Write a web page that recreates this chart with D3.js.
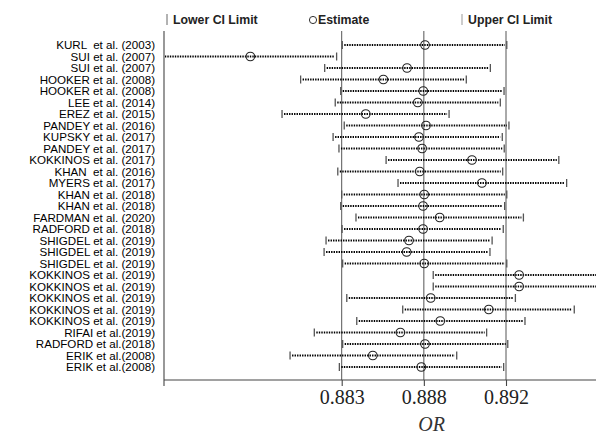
<!DOCTYPE html>
<html>
<head>
<meta charset="utf-8">
<script src="https://cdn.jsdelivr.net/npm/d3@7/dist/d3.min.js"></script>
<style>
  html, body { margin: 0; padding: 0; background: #fff; }
  svg { display: block; }
</style>
</head>
<body>
<svg id="chart" width="596" height="436"></svg>
<script>
// ---- Data ----
const studies = [
  "KURL  et al. (2003)", "SUI et al. (2007)", "SUI et al. (2007)", "HOOKER et al. (2008)",
  "HOOKER et al. (2008)", "LEE et al. (2014)", "EREZ et al. (2015)", "PANDEY et al. (2016)",
  "KUPSKY et al. (2017)", "PANDEY et al. (2017)", "KOKKINOS et al. (2017)", "KHAN  et al. (2016)",
  "MYERS et al. (2017)", "KHAN et al. (2018)", "KHAN et al. (2018)", "FARDMAN et al. (2020)",
  "RADFORD et al. (2018)", "SHIGDEL et al. (2019)", "SHIGDEL et al. (2019)", "SHIGDEL et al. (2019)",
  "KOKKINOS et al. (2019)", "KOKKINOS et al. (2019)", "KOKKINOS et al. (2019)", "KOKKINOS et al. (2019)",
  "KOKKINOS et al. (2019)", "RIFAI et al.(2019)", "RADFORD et al.(2018)", "ERIK et al.(2008)",
  "ERIK et al.(2008)"
];
const estimate = [
  0.88766, 0.87873, 0.88674, 0.88553, 0.88757, 0.88729, 0.88463, 0.88771,
  0.88735, 0.88751, 0.89006, 0.88739, 0.89057, 0.88762, 0.88756, 0.88841,
  0.88756, 0.88684, 0.88672, 0.88762, 0.89247, 0.89247, 0.88795, 0.89092,
  0.88844, 0.88640, 0.88766, 0.88499, 0.88747
];
const lowerCI = [
  0.88343, 0.87400, 0.88253, 0.88130, 0.88335, 0.88307, 0.88035, 0.88353,
  0.88296, 0.88326, 0.88567, 0.88320, 0.88628, 0.88340, 0.88335, 0.88413,
  0.88342, 0.88260, 0.88250, 0.88345, 0.88808, 0.88808, 0.88366, 0.88652,
  0.88417, 0.88200, 0.88345, 0.88076, 0.88328
];
const upperCI = [
  0.89184, 0.88314, 0.89100, 0.88977, 0.89170, 0.89151, 0.88889, 0.89195,
  0.89161, 0.89171, 0.89450, 0.89163, 0.89490, 0.89184, 0.89173, 0.89269,
  0.89166, 0.89109, 0.89098, 0.89184, 0.89690, 0.89690, 0.89228, 0.89529,
  0.89277, 0.89081, 0.89189, 0.88928, 0.89168
];
const tickValues = [0.8834, 0.8876, 0.8918];
const tickLabels = ["0.883", "0.888", "0.892"];
const legendLabels = ["Lower CI Limit", "Estimate", "Upper CI Limit"];
const axisTitle = "OR";

// ---- Layout ----
const svg = d3.select("#chart");
const plotLeft = 164, plotRight = 596, plotTop = 31, plotBottom = 380;

const x = d3.scaleLinear().domain([tickValues[0], tickValues[2]]).range([341.7, 506]);
const y = d3.scalePoint().domain(d3.range(studies.length)).range([45, 367]);

const rows = studies.map((s, i) => ({ i, s, est: estimate[i], lo: lowerCI[i], hi: upperCI[i] }));

svg.append("defs").append("clipPath").attr("id", "plotclip")
  .append("rect").attr("x", plotLeft + 1).attr("y", 0).attr("width", plotRight - plotLeft).attr("height", 436);

// reference lines at ticks
svg.append("g").selectAll("line").data(tickValues).join("line")
  .attr("x1", d => x(d)).attr("x2", d => x(d))
  .attr("y1", plotTop).attr("y2", plotBottom)
  .attr("stroke", "#555").attr("stroke-width", 1);

// left axis line
svg.append("line")
  .attr("x1", plotLeft).attr("x2", plotLeft)
  .attr("y1", plotTop).attr("y2", plotBottom + 6)
  .attr("stroke", "#444").attr("stroke-width", 1.1);

// bottom axis
const xAxis = d3.axisBottom(x)
  .tickValues(tickValues)
  .tickFormat((d, i) => tickLabels[i])
  .tickSize(6).tickSizeOuter(0);
const gx = svg.append("g").attr("transform", `translate(0,${plotBottom})`).call(xAxis);
gx.select(".domain").remove();
gx.selectAll(".tick line").attr("stroke", "#444").attr("stroke-width", 1.1);
gx.selectAll(".tick text")
  .attr("font-family", "'Liberation Serif', 'DejaVu Serif', serif")
  .attr("font-size", 20).attr("fill", "#222").attr("y", 10).attr("dy", "0.71em");
svg.append("line")
  .attr("x1", plotLeft).attr("x2", plotRight)
  .attr("y1", plotBottom).attr("y2", plotBottom)
  .attr("stroke", "#444").attr("stroke-width", 1.1);

// axis title
svg.append("text")
  .attr("x", x(0.888)).attr("y", 431)
  .attr("text-anchor", "middle")
  .attr("font-family", "'Liberation Serif', 'DejaVu Serif', serif")
  .attr("font-style", "italic").attr("font-size", 20).attr("fill", "#333")
  .text(axisTitle);

// study labels
svg.append("g").selectAll("text").data(rows).join("text")
  .attr("x", 155).attr("y", d => y(d.i) + 4.2)
  .attr("text-anchor", "end")
  .attr("font-family", "'Liberation Sans', Arial, sans-serif")
  .attr("font-size", 11.6).attr("fill", "#000")
  .style("white-space", "pre")
  .text(d => d.s);

// CI marks
const gCI = svg.append("g").attr("clip-path", "url(#plotclip)");
gCI.selectAll("line.ci").data(rows).join("line").attr("class", "ci")
  .attr("x1", d => x(d.lo) + 2).attr("x2", d => x(d.hi) - 2)
  .attr("y1", d => y(d.i)).attr("y2", d => y(d.i))
  .attr("stroke", "#000").attr("stroke-width", 2.2)
  .attr("stroke-dasharray", "1.4,1.1");
gCI.selectAll("line.lo").data(rows).join("line").attr("class", "lo")
  .attr("x1", d => x(d.lo)).attr("x2", d => x(d.lo))
  .attr("y1", d => y(d.i) - 4).attr("y2", d => y(d.i) + 4)
  .attr("stroke", "#555").attr("stroke-width", 1.3);
gCI.selectAll("line.hi").data(rows).join("line").attr("class", "hi")
  .attr("x1", d => x(d.hi)).attr("x2", d => x(d.hi))
  .attr("y1", d => y(d.i) - 4).attr("y2", d => y(d.i) + 4)
  .attr("stroke", "#555").attr("stroke-width", 1.3);
gCI.selectAll("circle").data(rows).join("circle")
  .attr("cx", d => x(d.est)).attr("cy", d => y(d.i)).attr("r", 4.3)
  .attr("fill", "none").attr("stroke", "#222").attr("stroke-width", 1.1);

// legend
const legendFont = "'Liberation Sans', Arial, sans-serif";
const lg = svg.append("g");
lg.append("line").attr("x1", 167).attr("x2", 167).attr("y1", 14).attr("y2", 25)
  .attr("stroke", "#666").attr("stroke-width", 1);
lg.append("text").attr("x", 173).attr("y", 24)
  .attr("font-family", legendFont).attr("font-weight", "bold").attr("font-size", 12.3).attr("fill", "#222")
  .text(legendLabels[0]);
lg.append("circle").attr("cx", 313).attr("cy", 20).attr("r", 3.6)
  .attr("fill", "none").attr("stroke", "#333").attr("stroke-width", 1);
lg.append("text").attr("x", 318).attr("y", 24)
  .attr("font-family", legendFont).attr("font-weight", "bold").attr("font-size", 12.3).attr("fill", "#222")
  .text(legendLabels[1]);
lg.append("line").attr("x1", 462).attr("x2", 462).attr("y1", 14).attr("y2", 25)
  .attr("stroke", "#999").attr("stroke-width", 1);
lg.append("text").attr("x", 468).attr("y", 24)
  .attr("font-family", legendFont).attr("font-weight", "bold").attr("font-size", 12.3).attr("fill", "#222")
  .text(legendLabels[2]);
</script>
</body>
</html>
